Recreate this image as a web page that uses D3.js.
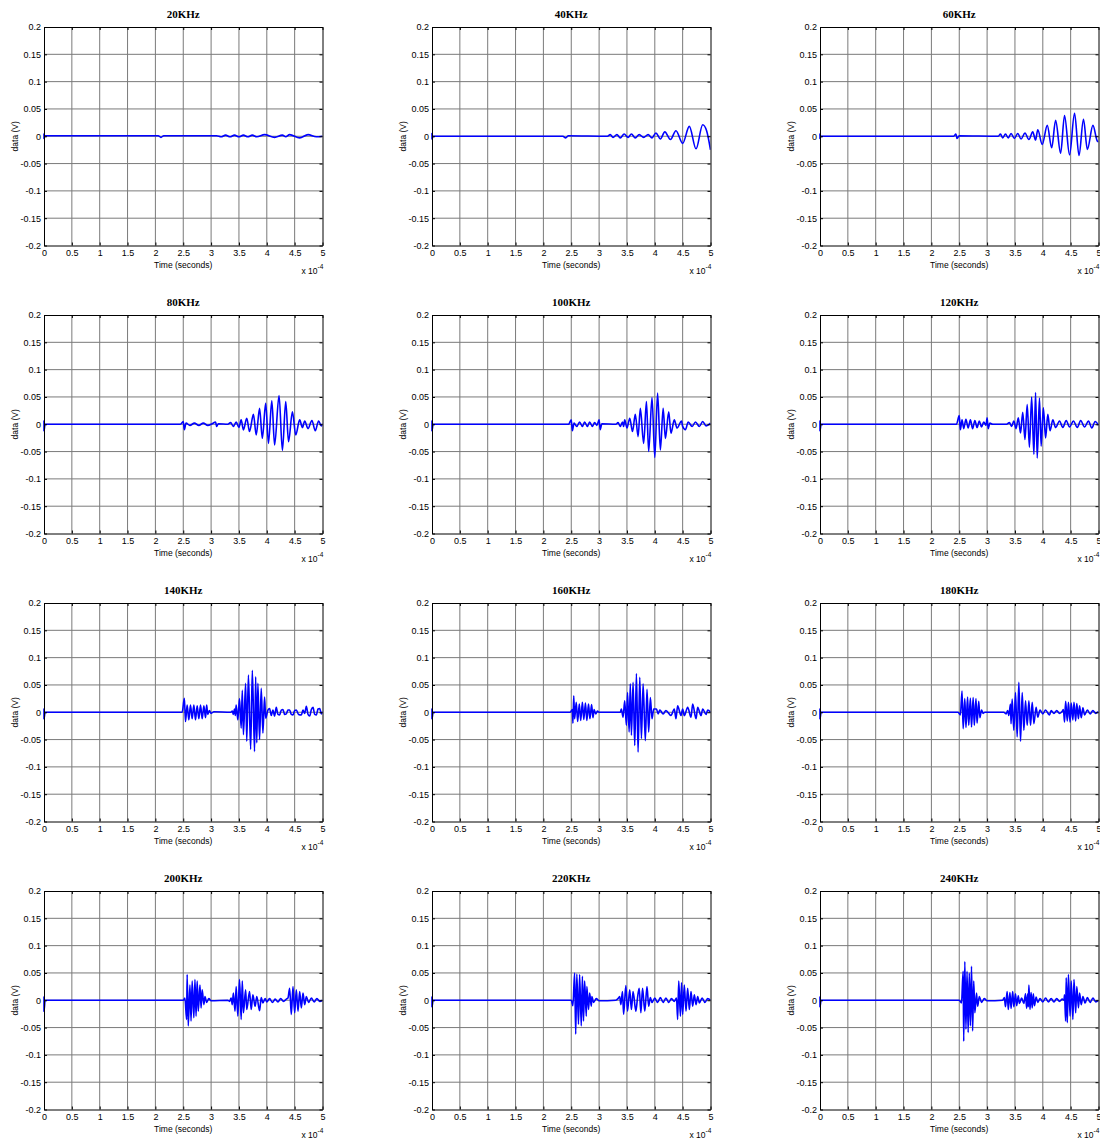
<!DOCTYPE html>
<html><head><meta charset="utf-8">
<script src="https://cdn.jsdelivr.net/npm/d3@7"></script>
<style>body{margin:0;background:#fff}</style></head>
<body>
<svg id="c" width="1100" height="1140"></svg>
<script>
const titles = ["20KHz","40KHz","60KHz","80KHz","100KHz","120KHz","140KHz","160KHz","180KHz","200KHz","220KHz","240KHz"];
const xTicks = [0,0.5,1,1.5,2,2.5,3,3.5,4,4.5,5];
const xTickLabels = ["0","0.5","1","1.5","2","2.5","3","3.5","4","4.5","5"];
const yTicks = [0.2,0.15,0.1,0.05,0,-0.05,-0.1,-0.15,-0.2];
const yTickLabels = ["0.2","0.15","0.1","0.05","0","-0.05","-0.1","-0.15","-0.2"];

// time in units of 1e-4 s, value in V
const sig20 = [[0,0],[0,0.004],[0,-0.004],[0.02,0.001],[2.05,0.001],[2.1,-0.002],[2.15,0.001],[3.1,0.001],[3.18,-0.001],[3.26,0.002],[3.34,-0.001],[3.42,0.002],[3.5,-0.001],[3.58,0.002],[3.66,-0.001],[3.74,0.002],[3.82,-0.001],[3.96,0.003],[4.14,-0.002],[4.28,0.002],[4.34,-0.001],[4.41,0.003],[4.59,-0.003],[4.74,0.003],[4.89,-0.001],[5,0]];
const sig40 = [[0,0],[0,0.005],[0,-0.005],[0.02,0],[2.35,0],[2.4,-0.003],[2.45,0.001],[3.15,0],[3.2,0.003],[3.25,-0.002],[3.32,0.003],[3.38,-0.003],[3.45,0.004],[3.52,-0.002],[3.58,0.004],[3.65,-0.003],[3.72,0.003],[3.8,-0.002],[3.88,0.003],[3.95,-0.003],[4.02,0.006],[4.1,-0.005],[4.18,0.008],[4.28,-0.006],[4.38,0.01],[4.5,-0.013],[4.62,0.018],[4.74,-0.023],[4.86,0.021],[4.93,0.01],[5,-0.025]];
const sig60 = [[0,0],[0,0.004],[0,-0.004],[0.02,0],[2.4,0],[2.44,0.004],[2.46,-0.004],[2.5,0.001],[3.2,0],[3.24,0.004],[3.28,-0.003],[3.33,0.004],[3.38,-0.003],[3.43,0.005],[3.49,-0.004],[3.55,0.005],[3.61,-0.005],[3.68,0.006],[3.75,-0.006],[3.82,0.008],[3.87,-0.007],[3.91,0.012],[3.99,-0.015],[4.08,0.02],[4.16,-0.021],[4.23,0.029],[4.32,-0.031],[4.39,0.038],[4.48,-0.034],[4.57,0.042],[4.65,-0.035],[4.73,0.031],[4.8,-0.024],[4.9,0.02],[4.98,-0.009],[5,-0.01]];
const sig80 = [[0,0],[0,0.006],[0,-0.012],[0.02,0],[2.45,0],[2.5,0.005],[2.52,-0.01],[2.55,0.002],[2.62,-0.002],[2.7,0.002],[2.78,-0.002],[2.86,0.002],[2.94,-0.002],[3.02,0.001],[3.08,0.004],[3.1,-0.004],[3.13,0.001],[3.3,0],[3.35,0.003],[3.4,-0.004],[3.45,0.004],[3.5,-0.006],[3.54,0.008],[3.58,-0.0104],[3.64,0.011],[3.69,-0.0134],[3.76,0.018],[3.81,-0.0196],[3.87,0.029],[3.92,-0.0257],[3.98,0.0385],[4.03,-0.035],[4.09,0.043],[4.14,-0.038],[4.22,0.0526],[4.28,-0.048],[4.34,0.0416],[4.39,-0.032],[4.46,0.023],[4.52,-0.0196],[4.59,0.008],[4.64,-0.006],[4.68,0.006],[4.74,-0.008],[4.81,0.007],[4.87,-0.012],[4.93,0.006],[4.98,-0.003],[5,0.001]];
const sig100 = [[0,0],[0,0.006],[0,-0.012],[0.02,0],[2.45,0],[2.5,0.008],[2.52,-0.012],[2.55,0.002],[2.6,-0.004],[2.65,0.004],[2.7,-0.004],[2.74,0.004],[2.79,-0.004],[2.83,0.004],[2.88,-0.004],[2.92,0.003],[2.96,-0.002],[3.0,0.008],[3.02,-0.01],[3.05,0.001],[3.3,0],[3.34,0.003],[3.38,-0.004],[3.42,0.004],[3.44,-0.004],[3.46,0.008],[3.5,-0.007],[3.55,0.011],[3.6,-0.0134],[3.65,0.018],[3.7,-0.0226],[3.74,0.029],[3.8,-0.035],[3.85,0.0416],[3.89,-0.05],[3.95,0.049],[4.0,-0.061],[4.05,0.057],[4.1,-0.047],[4.15,0.029],[4.19,-0.026],[4.25,0.023],[4.29,-0.0165],[4.35,0.008],[4.4,-0.007],[4.48,0.006],[4.5,-0.004],[4.55,-0.01],[4.6,0.004],[4.67,-0.004],[4.73,0.004],[4.8,-0.004],[4.86,0.005],[4.92,-0.003],[5,0.002]];
const sig120 = [[0,0],[0,0.006],[0,-0.012],[0.02,0],[2.45,0],[2.5,0.016],[2.52,-0.01],[2.55,0.008],[2.58,-0.008],[2.62,0.009],[2.66,-0.007],[2.7,0.008],[2.74,-0.008],[2.78,0.007],[2.82,-0.006],[2.86,0.006],[2.9,-0.005],[2.94,0.004],[2.98,-0.002],[3.0,0.012],[3.02,-0.008],[3.05,0.002],[3.1,0],[3.35,0],[3.4,0.003],[3.44,-0.004],[3.48,0.006],[3.52,-0.008],[3.56,0.012],[3.6,-0.016],[3.64,0.022],[3.68,-0.028],[3.72,0.036],[3.76,-0.042],[3.8,0.05],[3.84,-0.055],[3.87,0.058],[3.9,-0.062],[3.94,0.048],[3.97,-0.04],[4.01,0.03],[4.05,-0.025],[4.09,0.018],[4.13,-0.012],[4.18,0.008],[4.23,-0.006],[4.3,0.006],[4.36,-0.006],[4.42,0.007],[4.48,-0.005],[4.55,0.006],[4.62,-0.006],[4.68,0.007],[4.75,-0.005],[4.82,0.006],[4.88,-0.007],[4.94,0.005],[5,-0.002]];
const sig140 = [[0,0],[0,0.006],[0,-0.012],[0.02,0],[2.48,0],[2.52,0.0255],[2.54,-0.017],[2.57,0.013],[2.6,-0.014],[2.63,0.013],[2.66,-0.012],[2.69,0.013],[2.72,-0.014],[2.75,0.012],[2.78,-0.012],[2.81,0.013],[2.84,-0.012],[2.87,0.012],[2.9,-0.01],[2.92,0.013],[2.94,-0.004],[2.97,0.003],[3.0,-0.002],[3.05,0.001],[3.35,0],[3.38,0.002],[3.4,-0.004],[3.42,0.006],[3.435,-0.006],[3.45,0.013],[3.48,-0.014],[3.51,0.025],[3.54,-0.029],[3.56,0.04],[3.58,-0.041],[3.62,0.053],[3.64,-0.053],[3.67,0.068],[3.71,-0.068],[3.74,0.077],[3.78,-0.072],[3.8,0.065],[3.82,-0.056],[3.84,0.053],[3.87,-0.05],[3.9,0.044],[3.93,-0.038],[3.96,0.028],[3.98,-0.011],[4.02,0.004],[4.05,0.007],[4.08,-0.006],[4.11,0.004],[4.14,-0.007],[4.17,0.009],[4.2,-0.004],[4.23,-0.005],[4.26,0.004],[4.29,0.005],[4.32,-0.004],[4.35,-0.003],[4.38,0.004],[4.41,0.004],[4.44,-0.004],[4.47,-0.005],[4.5,0.003],[4.53,0.004],[4.57,-0.004],[4.62,-0.005],[4.65,0.004],[4.68,-0.002],[4.71,0.011],[4.74,-0.004],[4.77,-0.007],[4.8,0.005],[4.83,0.009],[4.86,-0.004],[4.89,-0.005],[4.92,0.006],[4.95,0.007],[4.98,-0.003],[5,0.001]];
const sig160 = [[0,0],[0,0.006],[0,-0.012],[0.02,0],[2.48,0],[2.52,0.005],[2.53,-0.02],[2.545,0.03],[2.56,-0.012],[2.59,0.018],[2.615,-0.017],[2.645,0.015],[2.67,-0.015],[2.7,0.018],[2.725,-0.013],[2.755,0.017],[2.78,-0.015],[2.81,0.015],[2.835,-0.012],[2.865,0.014],[2.89,-0.01],[2.91,0.005],[2.94,-0.003],[2.97,0.002],[3.0,0],[3.38,0],[3.4,0.006],[3.43,-0.009],[3.46,0.021],[3.49,-0.024],[3.51,0.036],[3.54,-0.036],[3.56,0.052],[3.58,-0.042],[3.61,0.055],[3.64,-0.061],[3.67,0.071],[3.7,-0.073],[3.73,0.064],[3.76,-0.048],[3.79,0.052],[3.83,-0.052],[3.86,0.042],[3.89,-0.036],[3.92,0.027],[3.95,-0.012],[3.98,0.006],[4.03,0.006],[4.06,-0.003],[4.09,0.004],[4.15,-0.003],[4.2,0.003],[4.29,-0.006],[4.35,0.006],[4.38,-0.012],[4.41,0.012],[4.47,-0.006],[4.5,0.006],[4.53,-0.006],[4.59,0.009],[4.65,-0.009],[4.68,0.015],[4.74,-0.012],[4.77,0.009],[4.83,-0.006],[4.86,0.006],[4.92,-0.004],[4.95,0.004],[5,0]];
const sig180 = [[0,0],[0,0.006],[0,-0.012],[0.02,0],[2.48,0],[2.52,-0.005],[2.55,0.039],[2.57,-0.03],[2.6,0.025],[2.62,-0.028],[2.65,0.028],[2.67,-0.024],[2.7,0.026],[2.72,-0.027],[2.75,0.027],[2.77,-0.024],[2.8,0.025],[2.82,-0.02],[2.85,0.02],[2.87,-0.01],[2.9,0.004],[2.93,-0.002],[2.96,0],[3.3,0],[3.34,-0.003],[3.37,0.003],[3.39,-0.006],[3.42,0.015],[3.43,-0.021],[3.45,0.024],[3.48,-0.033],[3.51,0.036],[3.54,-0.045],[3.57,0.055],[3.6,-0.053],[3.63,0.036],[3.66,-0.033],[3.69,0.021],[3.72,-0.024],[3.75,0.021],[3.78,-0.024],[3.81,0.018],[3.84,-0.021],[3.88,0.009],[3.91,-0.009],[3.95,0.004],[4.0,-0.003],[4.05,0.004],[4.1,-0.003],[4.12,-0.005],[4.15,0.003],[4.2,-0.002],[4.25,0.003],[4.3,-0.002],[4.35,0.002],[4.37,0.005],[4.39,-0.018],[4.41,0.02],[4.44,-0.016],[4.46,0.018],[4.49,-0.018],[4.51,0.017],[4.54,-0.014],[4.56,0.018],[4.59,-0.016],[4.61,0.016],[4.64,-0.012],[4.66,0.012],[4.69,-0.01],[4.72,0.008],[4.75,-0.005],[4.8,0.004],[4.85,-0.003],[4.9,0.003],[4.95,-0.002],[5,0.001]];
const sig200 = [[0,0],[0,0.006],[0,-0.02],[0.02,0],[2.5,0],[2.53,0.004],[2.56,-0.035],[2.57,0.047],[2.59,-0.047],[2.62,0.028],[2.64,-0.038],[2.66,0.035],[2.69,-0.032],[2.71,0.038],[2.73,-0.029],[2.75,0.035],[2.77,-0.02],[2.8,0.028],[2.82,-0.014],[2.84,0.019],[2.87,-0.008],[2.89,0.007],[2.92,-0.004],[2.96,0.003],[3.0,-0.001],[3.3,0],[3.33,-0.002],[3.36,0.004],[3.38,-0.008],[3.4,0.013],[3.43,-0.02],[3.45,0.025],[3.48,-0.029],[3.51,0.038],[3.54,-0.035],[3.56,0.035],[3.58,-0.023],[3.62,0.019],[3.64,-0.017],[3.69,0.016],[3.72,-0.017],[3.75,0.01],[3.79,-0.011],[3.82,0.007],[3.87,-0.019],[3.9,0.005],[3.93,-0.005],[3.97,0.003],[4.0,-0.003],[4.05,0.003],[4.1,-0.004],[4.15,0.002],[4.2,-0.003],[4.25,0.003],[4.3,-0.002],[4.35,0.002],[4.38,0.004],[4.41,0.022],[4.44,-0.026],[4.47,0.025],[4.5,-0.023],[4.53,0.019],[4.56,-0.02],[4.59,0.016],[4.62,-0.014],[4.65,0.013],[4.68,-0.008],[4.71,0.007],[4.75,-0.004],[4.8,0.004],[4.85,-0.003],[4.9,0.003],[4.95,-0.002],[5,0]];
const sig220 = [[0,0],[0,0.006],[0,-0.012],[0.02,0],[2.5,0],[2.53,-0.01],[2.56,0.05],[2.58,-0.062],[2.6,0.048],[2.63,-0.044],[2.65,0.047],[2.68,-0.047],[2.7,0.044],[2.72,-0.038],[2.74,0.035],[2.77,-0.029],[2.78,0.025],[2.81,-0.017],[2.83,0.013],[2.86,-0.011],[2.87,0.007],[2.9,-0.004],[2.95,0.003],[3.0,-0.001],[3.3,0],[3.34,0.003],[3.37,0.007],[3.39,-0.008],[3.42,0.016],[3.44,-0.026],[3.48,0.027],[3.51,-0.02],[3.55,0.019],[3.58,-0.017],[3.61,0.016],[3.66,-0.02],[3.69,0.005],[3.72,0.022],[3.75,-0.023],[3.78,0.022],[3.82,-0.02],[3.86,0.025],[3.89,-0.011],[3.92,0.005],[3.95,-0.004],[4.0,0.004],[4.05,-0.004],[4.1,0.005],[4.15,-0.004],[4.2,0.004],[4.25,-0.004],[4.3,0.003],[4.35,-0.002],[4.39,0.004],[4.41,-0.035],[4.43,0.035],[4.46,-0.029],[4.48,0.032],[4.5,-0.026],[4.53,0.028],[4.56,-0.02],[4.59,0.022],[4.62,-0.017],[4.65,0.016],[4.68,-0.011],[4.71,0.01],[4.74,-0.008],[4.77,0.007],[4.8,-0.005],[4.85,0.004],[4.9,-0.004],[4.95,0.003],[5,0]];
const sig240 = [[0,0],[0,0.006],[0,-0.012],[0.02,0],[2.5,0],[2.54,-0.005],[2.57,0.053],[2.58,-0.075],[2.6,0.071],[2.62,-0.053],[2.64,0.053],[2.66,-0.059],[2.68,0.05],[2.7,-0.047],[2.72,0.062],[2.74,-0.056],[2.76,0.035],[2.78,-0.023],[2.81,0.013],[2.83,-0.011],[2.86,0.007],[2.9,-0.004],[2.95,0.003],[3.0,-0.001],[3.28,0],[3.31,0.005],[3.33,-0.012],[3.36,0.016],[3.38,-0.017],[3.41,0.014],[3.43,-0.015],[3.46,0.016],[3.48,-0.012],[3.51,0.012],[3.53,-0.01],[3.56,0.008],[3.58,-0.006],[3.62,0.004],[3.66,-0.006],[3.69,0.012],[3.71,-0.015],[3.73,0.012],[3.74,-0.012],[3.75,0.028],[3.77,-0.017],[3.79,0.014],[3.81,-0.014],[3.83,0.012],[3.85,-0.01],[3.88,0.006],[3.91,-0.004],[3.95,0.003],[4.0,-0.003],[4.05,0.004],[4.1,-0.003],[4.15,0.003],[4.2,-0.003],[4.25,0.003],[4.3,-0.002],[4.35,0.002],[4.38,0],[4.39,0.01],[4.41,-0.038],[4.42,0.041],[4.44,-0.041],[4.46,0.047],[4.49,-0.029],[4.51,0.035],[4.54,-0.035],[4.56,0.038],[4.59,-0.023],[4.61,0.025],[4.64,-0.014],[4.66,0.013],[4.69,-0.008],[4.72,0.007],[4.76,-0.005],[4.8,0.005],[4.85,-0.004],[4.9,0.004],[4.95,-0.003],[5,0]];

const signals = [sig20,sig40,sig60,sig80,sig100,sig120,sig140,sig160,sig180,sig200,sig220,sig240];

const colX = [44, 432, 820];
const rowY = [27, 315, 603, 891];
const W = 278.5, H = 218.5;

const svg = d3.select("#c");
const x = d3.scaleLinear().domain([0,5]).range([0,W]);
const y = d3.scaleLinear().domain([-0.2,0.2]).range([H,0]);
const line = d3.line().x(d=>x(d[0])).y(d=>y(d[1])).curve(d3.curveMonotoneX);
const tickFont = "Liberation Sans, Arial, sans-serif";

signals.forEach((sig,i)=>{
  const c = i%3, r = Math.floor(i/3);
  const g = svg.append("g").attr("transform",`translate(${colX[c]},${rowY[r]})`);
  g.append("rect").attr("width",W).attr("height",H).attr("fill","#fff");
  g.selectAll(".gx").data(xTicks.slice(1,-1)).enter().append("line")
    .attr("x1",d=>x(d)).attr("x2",d=>x(d)).attr("y1",0).attr("y2",H)
    .attr("stroke","#7a7a7a").attr("stroke-width",1);
  g.selectAll(".gy").data(yTicks.slice(1,-1)).enter().append("line")
    .attr("y1",d=>y(d)).attr("y2",d=>y(d)).attr("x1",0).attr("x2",W)
    .attr("stroke","#7a7a7a").attr("stroke-width",1);
  const cid = "clip"+i;
  g.append("clipPath").attr("id",cid).append("rect").attr("x",-1).attr("width",W+1).attr("height",H);
  g.append("path").datum(sig).attr("d",line).attr("fill","none")
    .attr("stroke","#0000ff").attr("stroke-width",1.6).attr("stroke-linejoin","round")
    .attr("clip-path",`url(#${cid})`);
  const ax = (a) => {
    a.selectAll("text").attr("font-family",tickFont).attr("font-size",9).attr("fill","#000");
    a.selectAll("path,line").attr("stroke","#000");
  };
  g.append("g").attr("transform",`translate(0,${H})`)
    .call(d3.axisBottom(x).tickValues(xTicks).tickFormat((d,j)=>xTickLabels[j]).tickSize(-3).tickSizeOuter(0).tickPadding(4)).call(ax);
  g.append("g")
    .call(d3.axisTop(x).tickValues(xTicks).tickFormat("").tickSize(-3).tickSizeOuter(0)).call(ax);
  g.append("g")
    .call(d3.axisLeft(y).tickValues(yTicks).tickFormat((d,j)=>yTickLabels[j]).tickSize(-3).tickSizeOuter(0).tickPadding(3)).call(ax);
  g.append("g").attr("transform",`translate(${W},0)`)
    .call(d3.axisRight(y).tickValues(yTicks).tickFormat("").tickSize(-3).tickSizeOuter(0)).call(ax);
  g.append("text").attr("x",W/2).attr("y",-9).attr("text-anchor","middle")
    .attr("font-family","Liberation Serif, Times New Roman, serif").attr("font-weight","bold")
    .attr("font-size",11).text(titles[i]);
  g.append("text").attr("x",W/2).attr("y",H+22.5).attr("text-anchor","middle")
    .attr("font-family",tickFont).attr("font-size",8.5).text("Time (seconds)");
  g.append("text").attr("transform",`translate(-26,${H/2}) rotate(-90)`).attr("text-anchor","middle")
    .attr("font-family",tickFont).attr("font-size",8.5).text("data (V)");
  const xt = g.append("text").attr("x",W-21).attr("y",H+28.5).attr("font-family",tickFont).attr("font-size",8.5);
  xt.append("tspan").text("x 10");
  xt.append("tspan").attr("dy",-5).attr("font-size",6.5).text("-4");
});
</script>
</body></html>
